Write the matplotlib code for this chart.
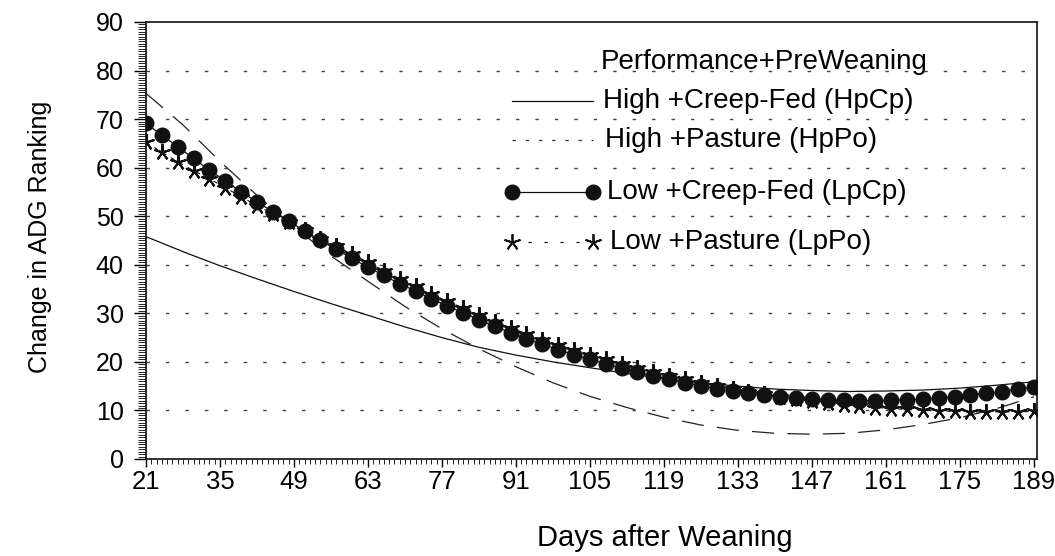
import matplotlib
matplotlib.use("Agg")
import matplotlib.pyplot as plt
from matplotlib.lines import Line2D
from matplotlib.ticker import MultipleLocator

# ---------------- data ----------------
days_markers = list(range(21, 190, 3))
lpcp = [69.1, 66.7, 64.3, 61.9, 59.5, 57.3, 55.0, 53.0, 50.9, 49.0,
        47.0, 45.0, 43.2, 41.3, 39.5, 37.8, 36.1, 34.6, 33.0, 31.5,
        30.1, 28.7, 27.3, 26.0, 24.8, 23.6, 22.5, 21.5, 20.5, 19.6,
        18.7, 17.9, 17.1, 16.4, 15.7, 15.1, 14.5, 14.0, 13.5, 13.1,
        12.8, 12.5, 12.3, 12.2, 12.1, 12.0, 12.0, 12.1, 12.2, 12.3,
        12.5, 12.8, 13.2, 13.5, 13.9, 14.4, 14.9]
lppo = [65.2, 63.2, 61.2, 59.4, 57.7, 55.9, 54.0, 52.2, 50.5, 48.8,
        47.1, 45.4, 43.8, 42.2, 40.5, 38.8, 37.1, 35.6, 34.0, 32.5,
        31.1, 29.7, 28.3, 27.0, 25.8, 24.6, 23.5, 22.4, 21.4, 20.5,
        19.6, 18.7, 17.9, 17.1, 16.4, 15.7, 15.0, 14.4, 13.8, 13.3,
        12.8, 12.3, 11.9, 11.5, 11.2, 10.9, 10.6, 10.4, 10.2, 10.0,
        9.9, 9.8, 9.7, 9.7, 9.7, 9.7, 9.8]

days_curves = list(range(21, 190, 7))
hpcp = [45.8, 42.7, 39.8, 37.1, 34.5, 32.0, 29.6, 27.2, 25.0, 23.0,
        21.4, 20.0, 18.8, 17.6, 16.6, 15.7, 15.0, 14.4, 14.1, 13.9,
        14.0, 14.2, 14.6, 15.2, 15.9]
hppo = [75.3, 68.8, 61.3, 54.3, 47.8, 41.8, 36.6, 31.4, 26.8, 22.7,
        19.0, 15.7, 12.9, 10.6, 8.6, 7.0, 5.9, 5.3, 5.1, 5.3,
        6.0, 7.1, 8.5, 10.4, 12.8]

legend_title = "Performance+PreWeaning"
labels = ["High +Creep-Fed (HpCp)", "High +Pasture (HpPo)",
          "Low +Creep-Fed (LpCp)", "Low +Pasture (LpPo)"]
x_ticks = list(range(21, 190, 14))
y_ticks = list(range(0, 91, 10))
x_label = "Days after Weaning"
y_label = "Change in ADG Ranking"

# ---------------- style ----------------
plt.rcParams['font.family'] = ['Liberation Sans', 'DejaVu Sans']
plt.rcParams['lines.scale_dashes'] = False

W, H = 1055, 556
fig = plt.figure(figsize=(W / 100, H / 100), dpi=100)
L, R, T, B = 146, 1037, 22, 459
ax = fig.add_axes([L / W, 1 - B / H, (R - L) / W, (B - T) / H])

grid_dash = (0, (2.5, 11.5))
ax.set_axisbelow(True)
for v in y_ticks[1:-1]:
    ax.axhline(v, color='#444444', lw=1.0, linestyle=grid_dash, zorder=0)

ax.plot(days_curves, hppo, color='#222222', lw=0.9, linestyle=(0, (16, 9.5)), zorder=2)
ax.plot(days_curves, hpcp, color='#111111', lw=0.9, linestyle='-', zorder=2)
ax.plot(days_markers, lppo, color='#111111', lw=0.8, linestyle=(0, (3, 4)),
        marker=(5, 2, 0), markersize=12, markeredgewidth=1.5,
        markeredgecolor='#111111', zorder=3)
ax.plot(days_markers, lpcp, color='#111111', lw=0.9, linestyle='-',
        marker='o', markersize=10.5, markerfacecolor='#111111',
        markeredgecolor='#111111', zorder=4)

ax.set_xlim(21, 189.6)
ax.set_ylim(0, 90)
ax.set_xticks(x_ticks)
ax.set_yticks(y_ticks)
ax.xaxis.set_minor_locator(MultipleLocator(1))
ax.yaxis.set_minor_locator(MultipleLocator(0.5))
ax.tick_params(axis='y', which='major', length=9, width=1.0, pad=7, labelsize=18, direction='out')
ax.tick_params(axis='y', which='minor', length=5.5, width=0.6, direction='out')
ax.tick_params(axis='x', which='major', length=6, width=1.0, pad=2, labelsize=18.5, direction='out')
ax.tick_params(axis='x', which='minor', length=3.5, width=0.6, direction='out')
for s in ax.spines.values():
    s.set_linewidth(1.2)
    s.set_color('#111111')

fig.text(40 / W, 1 - 237 / H, y_label, rotation=90, ha='center', va='center', fontsize=18)
fig.text(665 / W, 1 - 538 / H, x_label, ha='center', va='center', fontsize=21)

# ---------------- legend (drawn manually) ----------------
def fx(px):
    return (px - L) / (R - L)

def fy(py):
    return (B - py) / (B - T)

ax.text(fx(601), fy(62), legend_title, transform=ax.transAxes, ha='left', va='center', fontsize=20)
rows = [101, 140, 192, 242]
tx = [603, 605, 607, 610]
styles = [
    dict(color='#111111', lw=0.9, linestyle='-'),
    dict(color='#333333', lw=0.9, linestyle=(0, (2.5, 7))),
    dict(color='#111111', lw=0.9, linestyle='-', marker='o', markersize=10.5,
         markevery=[0, 1], markerfacecolor='#111111'),
    dict(color='#111111', lw=0.8, linestyle=(0, (2.5, 9)), marker=(5, 2, 0),
         markersize=12, markeredgewidth=1.3, markevery=[0, 1]),
]
for y, x0, lab, st in zip(rows, tx, labels, styles):
    ln = Line2D([fx(512), fx(593)], [fy(y), fy(y)], transform=ax.transAxes,
                clip_on=False, **st)
    ax.add_line(ln)
    ax.text(fx(x0), fy(y), lab, transform=ax.transAxes, ha='left', va='center', fontsize=20)

fig.savefig("out.png", dpi=100, facecolor='white')
